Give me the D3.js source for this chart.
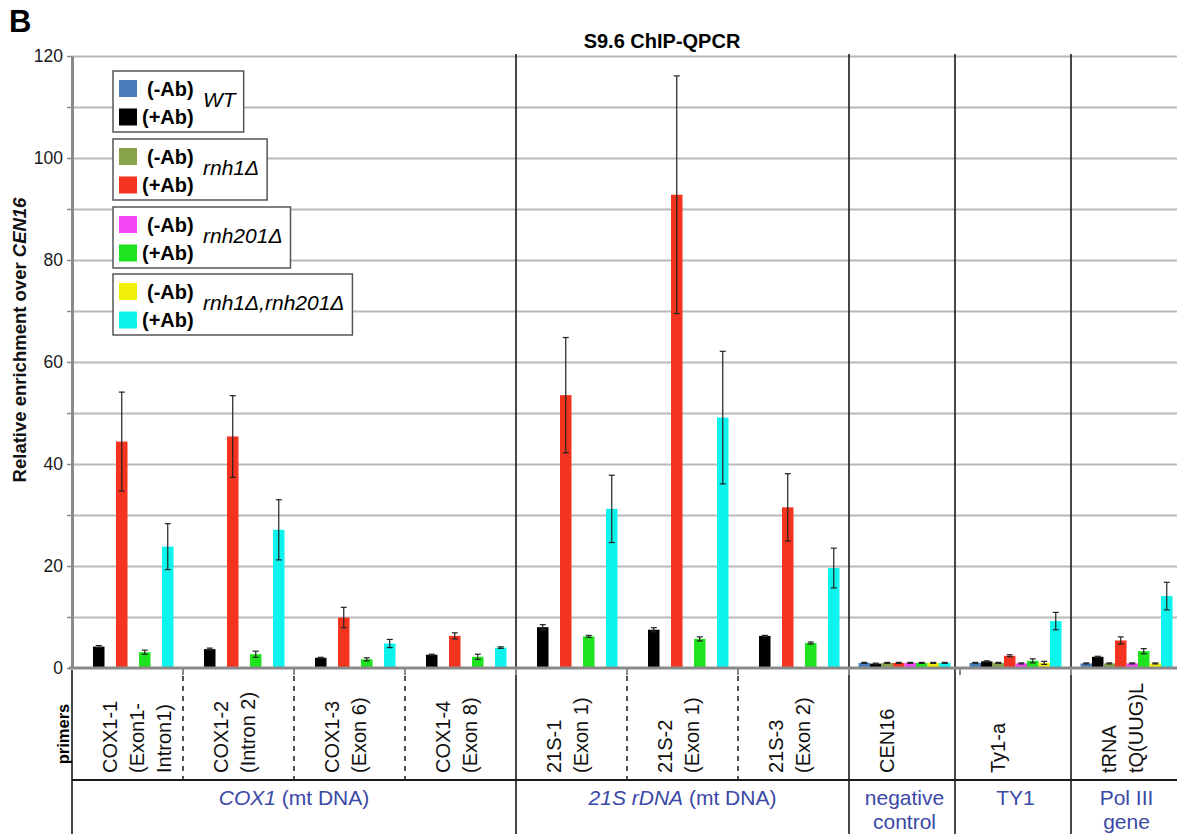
<!DOCTYPE html>
<html>
<head>
<meta charset="utf-8">
<script src="https://cdn.jsdelivr.net/npm/d3@7"></script>
<style>
  body { margin: 0; background: #fff; }
  svg { display: block; font-family: "Liberation Sans", Arial, sans-serif; }
</style>
</head>
<body>
<svg id="chart" width="1177" height="834"></svg>
<script>
// primers on the x axis, one label line per column
const primers = ["COX1-1", "COX1-2", "COX1-3", "COX1-4", "21S-1", "21S-2", "21S-3", "CEN16", "Ty1-a", "tRNA"];
const primerLines = [
  ["COX1-1", "(Exon1-", "Intron1)"],
  ["COX1-2", "(Intron 2)"],
  ["COX1-3", "(Exon 6)"],
  ["COX1-4", "(Exon 8)"],
  ["21S-1", "(Exon 1)"],
  ["21S-2", "(Exon 1)"],
  ["21S-3", "(Exon 2)"],
  ["CEN16"],
  ["Ty1-a"],
  ["tRNA", "tQ(UUG)L"]
];

// groups under the primers: first and last primer index, lines of [text, italic]
const groupFirst = [0, 4, 7, 8, 9];
const groupLast = [3, 6, 7, 8, 9];
const groupLines = [
  [[["COX1", true], [" (mt DNA)", false]]],
  [[["21S rDNA", true], [" (mt DNA)", false]]],
  [[["negative", false]], [["control", false]]],
  [[["TY1", false]]],
  [[["Pol III", false]], [["gene", false]]]
];

// series (strain x antibody)
const seriesNames = ["WT -Ab", "WT +Ab", "rnh1 -Ab", "rnh1 +Ab", "rnh201 -Ab", "rnh201 +Ab", "rnh1rnh201 -Ab", "rnh1rnh201 +Ab"];
const seriesColors = ["#4a7ebb", "#000000", "#87a44c", "#f4341f", "#f546f5", "#1fe31f", "#f0ef0a", "#0df4ee"];

const wtMinus      = [0.1, 0.1, 0.1, 0.1, 0.1, 0.1, 0.1, 1.0, 1.0, 0.9];
const wtMinusErr   = [0, 0, 0, 0, 0, 0, 0, 0.1, 0.1, 0.1];
const wtPlus       = [4.2, 3.7, 2.0, 2.6, 8.0, 7.5, 6.3, 0.85, 1.3, 2.2];
const wtPlusErr    = [0.2, 0.2, 0.1, 0.1, 0.5, 0.4, 0.1, 0.1, 0.1, 0.1];
const rnh1Minus    = [0.1, 0.1, 0.1, 0.1, 0.1, 0.1, 0.1, 1.0, 1.0, 0.9];
const rnh1MinusErr = [0, 0, 0, 0, 0, 0, 0, 0.1, 0.1, 0.1];
const rnh1Plus     = [44.4, 45.4, 9.9, 6.3, 53.5, 92.8, 31.5, 1.0, 2.4, 5.4];
const rnh1PlusErr  = [9.7, 8.0, 2.0, 0.6, 11.3, 23.3, 6.6, 0.1, 0.2, 0.7];
const rnh201Minus  = [0.1, 0.1, 0.1, 0.1, 0.1, 0.1, 0.1, 1.0, 0.9, 0.9];
const rnh201MinusErr = [0, 0, 0, 0, 0, 0, 0, 0.1, 0.1, 0.1];
const rnh201Plus   = [3.1, 2.7, 1.7, 2.2, 6.2, 5.7, 4.9, 1.0, 1.4, 3.3];
const rnh201PlusErr = [0.4, 0.6, 0.3, 0.5, 0.2, 0.4, 0.2, 0.1, 0.4, 0.5];
const dblMinus     = [0.1, 0.1, 0.1, 0.1, 0.1, 0.1, 0.1, 1.0, 1.0, 0.9];
const dblMinusErr  = [0, 0, 0, 0, 0, 0, 0, 0.1, 0.3, 0.1];
const dblPlus      = [23.8, 27.1, 4.8, 4.0, 31.2, 49.1, 19.6, 1.0, 9.2, 14.1];
const dblPlusErr   = [4.5, 5.9, 0.8, 0.15, 6.6, 13.0, 3.9, 0.1, 1.7, 2.7];

const seriesValues = [wtMinus, wtPlus, rnh1Minus, rnh1Plus, rnh201Minus, rnh201Plus, dblMinus, dblPlus];
const seriesErrors = [wtMinusErr, wtPlusErr, rnh1MinusErr, rnh1PlusErr, rnh201MinusErr, rnh201PlusErr, dblMinusErr, dblPlusErr];

// legend
const genotypes = ["WT", "rnh1\u0394", "rnh201\u0394", "rnh1\u0394,rnh201\u0394"];
const abLabels = ["(-Ab)", "(+Ab)"];

// y axis
const yTicks = [0, 20, 40, 60, 80, 100, 120];
const yGrid = [10, 20, 30, 40, 50, 60, 70, 80, 90, 100, 110, 120];

const W = 1177, H = 834;
const left = 72, axisY = 668, topY = 56, rowLine = 780;
const svg = d3.select("#chart");

const x0 = d3.scaleBand().domain(primers).range([left, left + 111 * primers.length]);
const x1 = d3.scaleBand().domain(seriesNames).range([9.5, 101.5]);
const y = d3.scaleLinear().domain([0, 120]).range([axisY, topY]);

// gridlines
svg.append("g")
  .attr("transform", `translate(${left},0)`)
  .call(d3.axisLeft(y).tickValues(yGrid).tickSize(-(W - left)).tickFormat(""))
  .call(g => g.select(".domain").remove())
  .call(g => g.selectAll("line").attr("stroke", "#b9b9b9").attr("stroke-width", 2));

// separators
const groupBounds = groupFirst.slice(1);
const subBounds = d3.range(1, primers.length).filter(i => !groupBounds.includes(i));
svg.append("g").selectAll("line").data(groupBounds).join("line")
  .attr("x1", i => x0(primers[i]) - (i === 8 ? 5 : 0)).attr("x2", i => x0(primers[i]) - (i === 8 ? 5 : 0))
  .attr("y1", 54).attr("y2", H)
  .attr("stroke", "#1a1a1a").attr("stroke-width", 1.6);
svg.append("g").selectAll("line").data(subBounds).join("line")
  .attr("x1", i => x0(primers[i])).attr("x2", i => x0(primers[i]))
  .attr("y1", 676).attr("y2", rowLine)
  .attr("stroke", "#1a1a1a").attr("stroke-width", 1.5).attr("stroke-dasharray", "5,5");
// small ticks on the x axis
svg.append("g").selectAll("line").data(d3.range(1, primers.length)).join("line")
  .attr("x1", i => x0(primers[i])).attr("x2", i => x0(primers[i]))
  .attr("y1", axisY).attr("y2", axisY + 7)
  .attr("stroke", "#8a8a8a").attr("stroke-width", 2);
svg.append("line").attr("x1", left).attr("x2", left).attr("y1", axisY + 2).attr("y2", H)
  .attr("stroke", "#1a1a1a").attr("stroke-width", 1.6);
svg.append("line").attr("x1", left).attr("x2", W).attr("y1", rowLine).attr("y2", rowLine)
  .attr("stroke", "#1a1a1a").attr("stroke-width", 2);

// bars
const barG = svg.append("g");
seriesNames.forEach((s, si) => {
  const g = barG.append("g");
  g.selectAll("rect").data(primers).join("rect")
    .attr("x", p => x0(p) + x1(s))
    .attr("width", x1.bandwidth())
    .attr("y", (p, i) => y(seriesValues[si][i]))
    .attr("height", (p, i) => y(0) - y(seriesValues[si][i]))
    .attr("fill", seriesColors[si]);
  const errs = primers.map((p, i) => ({ p, v: seriesValues[si][i], e: seriesErrors[si][i] })).filter(d => d.e > 0);
  const eg = g.selectAll("g.err").data(errs).join("g").attr("class", "err")
    .attr("stroke", "#222").attr("stroke-width", 1.2);
  const cx = d => x0(d.p) + x1(s) + x1.bandwidth() / 2;
  eg.append("line").attr("x1", cx).attr("x2", cx).attr("y1", d => y(d.v + d.e)).attr("y2", d => y(Math.max(0, d.v - d.e)));
  eg.append("line").attr("x1", d => cx(d) - 3).attr("x2", d => cx(d) + 3).attr("y1", d => y(d.v + d.e)).attr("y2", d => y(d.v + d.e));
  eg.append("line").attr("x1", d => cx(d) - 3).attr("x2", d => cx(d) + 3)
    .attr("y1", d => y(Math.max(0, d.v - d.e))).attr("y2", d => y(Math.max(0, d.v - d.e)));
});

// zero line
svg.append("line").attr("x1", left - 3).attr("x2", W).attr("y1", y(0)).attr("y2", y(0))
  .attr("stroke", "#8a8a8a").attr("stroke-width", 3);

// y axis
svg.append("g")
  .attr("transform", `translate(${left},0)`)
  .call(d3.axisLeft(y).tickValues(yGrid.concat([0])).tickSize(5).tickSizeOuter(0).tickPadding(4)
    .tickFormat(d => yTicks.includes(d) ? d : ""))
  .call(g => g.select(".domain").attr("stroke", "#8a8a8a").attr("stroke-width", 3))
  .call(g => g.selectAll(".tick line").attr("stroke", "#8a8a8a").attr("stroke-width", 1.5))
  .call(g => g.selectAll("text").attr("font-size", 17.5).attr("fill", "#1a1a1a")
    .attr("font-family", "'Liberation Sans', Arial, sans-serif"));

// y label
const yl = svg.append("text")
  .attr("transform", "translate(26,340) rotate(-90)")
  .attr("text-anchor", "middle").attr("font-size", 18.5).attr("font-weight", "bold").attr("fill", "#111");
yl.append("tspan").text("Relative enrichment over ");
yl.append("tspan").attr("font-style", "italic").text("CEN16");

// title and panel letter
svg.append("text").attr("x", 662).attr("y", 48).attr("text-anchor", "middle")
  .attr("font-size", 20).attr("font-weight", "bold").text("S9.6 ChIP-QPCR");
svg.append("text").attr("x", 9).attr("y", 32).attr("font-size", 31).attr("font-weight", "bold").text("B");

// primer labels
svg.append("text").attr("transform", "translate(63,734) rotate(-90)")
  .attr("text-anchor", "middle").attr("dy", "0.35em")
  .attr("font-size", 16.5).attr("font-weight", "bold").text("primers");
primers.forEach((p, i) => {
  primerLines[i].forEach((line, li) => {
    svg.append("text")
      .attr("transform", `translate(${x0(p) + 38 + li * 27},773) rotate(-90)`)
      .attr("dy", "0.35em").attr("font-size", 20).attr("fill", "#111").text(line);
  });
});

// group labels
groupLines.forEach((lines, gi) => {
  const cx = (x0(primers[groupFirst[gi]]) + x0(primers[groupLast[gi]]) + x0.bandwidth()) / 2;
  lines.forEach((parts, li) => {
    const t = svg.append("text").attr("x", cx).attr("y", 805 + li * 24)
      .attr("text-anchor", "middle").attr("font-size", 21).attr("fill", "#3a48a6");
    parts.forEach(([txt, it]) => t.append("tspan").attr("font-style", it ? "italic" : "normal").text(txt));
  });
});

// legend
const boxTops = [71, 139, 207, 274];
genotypes.forEach((gname, gi) => {
  const g = svg.append("g").attr("transform", `translate(113,${boxTops[gi]})`);
  const box = g.append("rect").attr("x", 0).attr("y", 0).attr("height", 61)
    .attr("fill", "#fff").attr("stroke", "#555").attr("stroke-width", 1.5);
  abLabels.forEach((ab, k) => {
    const sy = k === 0 ? 9 : 37.5;
    g.append("rect").attr("x", 6).attr("y", sy).attr("width", 18).attr("height", 17)
      .attr("fill", seriesColors[gi * 2 + k]);
    g.append("text").attr("x", k === 0 ? 34 : 29).attr("y", sy + 8.5).attr("dy", "0.35em")
      .attr("font-size", 20).attr("font-weight", "bold").text(ab);
  });
  const gt = g.append("text").attr("x", 90).attr("y", 36)
    .attr("font-size", 21).attr("font-style", "italic").text(gname);
  box.attr("width", 90 + gt.node().getComputedTextLength() + 8);
});
</script>
</body>
</html>
